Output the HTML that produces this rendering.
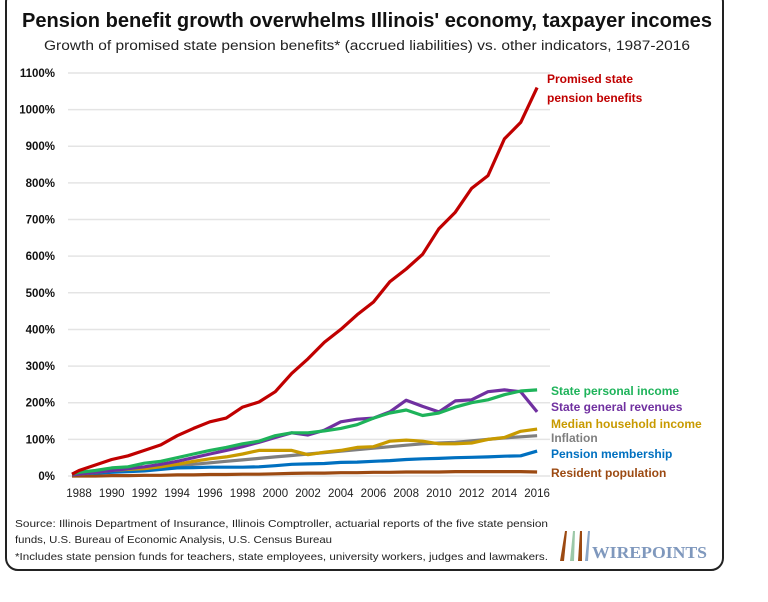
<!DOCTYPE html>
<html><head><meta charset="utf-8"><style>
html,body{margin:0;padding:0;background:#fff;}
body{width:768px;height:597px;overflow:hidden;font-family:"Liberation Sans",sans-serif;}
</style></head><body>
<svg id="s" width="768" height="597" xmlns="http://www.w3.org/2000/svg" font-family="Liberation Sans, sans-serif">
<rect x="6" y="-10" width="717" height="580" rx="12" fill="#fff" stroke="#222" stroke-width="2"/>
<text x="367" y="27" text-anchor="middle" font-size="20" font-weight="bold" fill="#111" textLength="690" lengthAdjust="spacingAndGlyphs">Pension benefit growth overwhelms Illinois' economy, taxpayer incomes</text>
<text x="367" y="50" text-anchor="middle" font-size="13.5" fill="#222" textLength="646" lengthAdjust="spacingAndGlyphs">Growth of promised state pension benefits* (accrued liabilities) vs. other indicators, 1987-2016</text>
<g id="grid" stroke="#e4e4e4" stroke-width="1.5"></g>
<g id="ylab" font-size="11.5" font-weight="bold" fill="#111" text-anchor="end"></g>
<g id="xlab" font-size="11.5" fill="#222" text-anchor="middle"></g>
<g id="lines" fill="none" stroke-width="3.2" stroke-linejoin="round"></g>
<g font-size="12" font-weight="bold">
<text x="547" y="83" fill="#c00000">Promised state</text>
<text x="547" y="102" fill="#c00000">pension benefits</text>
<text x="551" y="395" fill="#1eb35a">State personal income</text>
<text x="551" y="411" fill="#7030a0">State general revenues</text>
<text x="551" y="428" fill="#c89a00">Median household income</text>
<text x="551" y="442" fill="#7f7f7f">Inflation</text>
<text x="551" y="458" fill="#0070c0">Pension membership</text>
<text x="551" y="477" fill="#9c4a12">Resident population</text>
</g>
<g font-size="10.5" fill="#222">
<text x="15" y="527" textLength="533" lengthAdjust="spacingAndGlyphs">Source: Illinois Department of Insurance, Illinois Comptroller, actuarial reports of the five state pension</text>
<text x="15" y="543" textLength="317" lengthAdjust="spacingAndGlyphs">funds, U.S. Bureau of Economic Analysis, U.S. Census Bureau</text>
<text x="15" y="560" textLength="533" lengthAdjust="spacingAndGlyphs">*Includes state pension funds for teachers, state employees, university workers, judges and lawmakers.</text>
</g>
<polygon points="560,561 565,531 567,531 564,561" fill="#9c4a12"/>
<polygon points="570,561 573,531 575,531 574,561" fill="#9cc8a8"/>
<polygon points="578,561 580,531 582,531 582,561" fill="#9c4a12"/>
<polygon points="585,561 588,531 590,531 588,561" fill="#8aa6c8"/>
<text x="592" y="558" font-family="Liberation Serif, serif" font-weight="bold" font-size="17" fill="#7f98bd" textLength="115" lengthAdjust="spacingAndGlyphs">WIREPOINTS</text>
</svg>
<script>
var ns="http://www.w3.org/2000/svg";
function el(p,t,a,txt){var e=document.createElementNS(ns,t);for(var k in a)e.setAttribute(k,a[k]);if(txt!=null)e.textContent=txt;document.getElementById(p).appendChild(e);}
function Y(v){return 476-v*0.3664;}
function X(y){return 79+(y-1988)*16.36;}
for(var i=0;i<=11;i++){var y=Y(i*100);el("grid","line",{x1:68,x2:550,y1:y,y2:y});el("ylab","text",{x:55,y:y+4},(i*100)+"%");}
for(var yr=1988;yr<=2016;yr+=2)el("xlab","text",{x:X(yr),y:497},yr);
var S=[
["#7f7f7f",[3,5,8,12,16,20,24,28,32,36,40,44,48,52,56,60,64,68,72,76,80,84,88,90,92,96,100,104,107,110]],
["#9c4a12",[0,0,0,1,1,2,2,3,3,4,4,5,5,6,7,8,8,9,9,10,10,11,11,11,12,12,12,12,12,11]],
["#0070c0",[5,6,8,10,12,14,18,22,23,24,24,24,25,28,32,33,34,37,38,40,42,45,47,48,50,51,52,54,55,68]],
["#c89a00",[3,5,10,15,18,20,25,32,40,47,52,60,70,70,70,58,65,70,78,80,95,98,95,88,88,90,100,105,122,128]],
["#7030a0",[3,5,10,15,20,25,32,40,50,60,70,80,92,105,118,112,125,148,155,158,175,207,190,175,205,208,230,235,230,175]],
["#1eb35a",[5,10,15,22,25,35,40,50,60,70,78,88,95,110,118,118,123,130,140,158,172,180,165,172,188,200,208,222,232,235]],
["#c00000",[5,15,30,45,55,70,85,110,130,148,158,188,202,230,280,320,365,400,440,475,530,565,605,675,720,785,820,920,965,1060]]
];
S.forEach(function(s){var d=s[1],n=d.length,pts=[];for(var i=0;i<n;i++){var yr=2016-(n-1-i);var x=X(yr);if(yr<1988)x=72;pts.push(x.toFixed(1)+","+Y(d[i]).toFixed(1));}
el("lines","polyline",{points:pts.join(" "),stroke:s[0]});});
</script>
</body></html>
